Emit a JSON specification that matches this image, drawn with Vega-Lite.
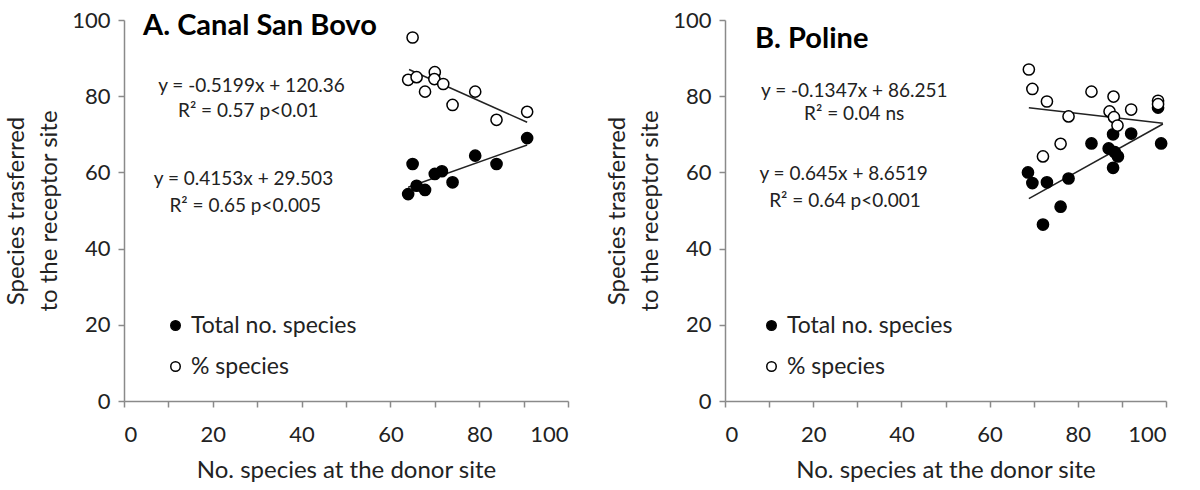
{
  "$schema": "https://vega.github.io/schema/vega-lite/v6.json",
  "padding": {"left": 4, "top": 9, "right": 5, "bottom": 5},
  "background": "white",
  "config": {
    "font": "Lato",
    "view": {"stroke": null},
    "axis": {
      "grid": false,
      "domainColor": "#8a8a8a",
      "domainWidth": 1.5,
      "tickColor": "#8a8a8a",
      "tickWidth": 1.5,
      "tickSize": 6,
      "labelFont": "Lato",
      "labelFontSize": 22,
      "labelColor": "#222222",
      "titleFont": "Lato",
      "titleFontSize": 24,
      "titleFontWeight": "normal",
      "titleColor": "#222222"
    },
    "axisX": {"labelPadding": 17, "titlePadding": 13},
    "axisY": {"labelPadding": 8, "titlePadding": 10, "titleLineHeight": 33}
  },
  "datasets": {
    "pointsA": [
      {"x": 64.0, "y": 54.3, "series": "Total no. species"},
      {"x": 65.0, "y": 62.2, "series": "Total no. species"},
      {"x": 65.9, "y": 56.5, "series": "Total no. species"},
      {"x": 67.8, "y": 55.4, "series": "Total no. species"},
      {"x": 70.0, "y": 59.6, "series": "Total no. species"},
      {"x": 71.6, "y": 60.3, "series": "Total no. species"},
      {"x": 74.0, "y": 57.4, "series": "Total no. species"},
      {"x": 79.1, "y": 64.4, "series": "Total no. species"},
      {"x": 83.9, "y": 62.2, "series": "Total no. species"},
      {"x": 90.8, "y": 69.0, "series": "Total no. species"},
      {"x": 65.0, "y": 95.4, "series": "% species"},
      {"x": 64.0, "y": 84.3, "series": "% species"},
      {"x": 65.9, "y": 85.0, "series": "% species"},
      {"x": 70.0, "y": 86.3, "series": "% species"},
      {"x": 69.9, "y": 84.5, "series": "% species"},
      {"x": 71.9, "y": 83.2, "series": "% species"},
      {"x": 67.8, "y": 81.2, "series": "% species"},
      {"x": 74.0, "y": 77.7, "series": "% species"},
      {"x": 79.1, "y": 81.2, "series": "% species"},
      {"x": 83.9, "y": 73.8, "series": "% species"},
      {"x": 90.8, "y": 75.9, "series": "% species"}
    ],
    "linesA": [
      {"x": 64.0, "y": 56.1, "series": "Total no. species"},
      {"x": 90.8, "y": 67.2, "series": "Total no. species"},
      {"x": 64.2, "y": 87.0, "series": "% species"},
      {"x": 90.8, "y": 73.15, "series": "% species"}
    ],
    "notesA": [
      {"x": 28.7, "y": 82.7, "text": "y = -0.5199x + 120.36"},
      {"x": 28.0, "y": 76.1, "text": "R² = 0.57 p<0.01"},
      {"x": 26.9, "y": 58.3, "text": "y = 0.4153x + 29.503"},
      {"x": 27.3, "y": 51.2, "text": "R² = 0.65 p<0.005"}
    ],
    "titleA": [{"x": 4.3, "y": 98.4, "text": "A. Canal San Bovo"}],
    "pointsB": [
      {"x": 98.2, "y": 77.0, "series": "Total no. species"},
      {"x": 88.0, "y": 70.0, "series": "Total no. species"},
      {"x": 92.1, "y": 70.2, "series": "Total no. species"},
      {"x": 83.1, "y": 67.6, "series": "Total no. species"},
      {"x": 98.9, "y": 67.6, "series": "Total no. species"},
      {"x": 87.0, "y": 66.3, "series": "Total no. species"},
      {"x": 88.4, "y": 65.3, "series": "Total no. species"},
      {"x": 89.1, "y": 64.2, "series": "Total no. species"},
      {"x": 88.0, "y": 61.2, "series": "Total no. species"},
      {"x": 68.7, "y": 60.0, "series": "Total no. species"},
      {"x": 69.7, "y": 57.2, "series": "Total no. species"},
      {"x": 73.0, "y": 57.4, "series": "Total no. species"},
      {"x": 77.9, "y": 58.4, "series": "Total no. species"},
      {"x": 76.1, "y": 51.0, "series": "Total no. species"},
      {"x": 72.1, "y": 46.3, "series": "Total no. species"},
      {"x": 68.9, "y": 87.0, "series": "% species"},
      {"x": 69.7, "y": 81.9, "series": "% species"},
      {"x": 73.0, "y": 78.6, "series": "% species"},
      {"x": 77.9, "y": 74.7, "series": "% species"},
      {"x": 83.1, "y": 81.2, "series": "% species"},
      {"x": 88.1, "y": 79.9, "series": "% species"},
      {"x": 87.2, "y": 76.0, "series": "% species"},
      {"x": 88.2, "y": 74.5, "series": "% species"},
      {"x": 89.0, "y": 72.3, "series": "% species"},
      {"x": 92.1, "y": 76.5, "series": "% species"},
      {"x": 98.2, "y": 78.8, "series": "% species"},
      {"x": 98.2, "y": 77.9, "series": "% species"},
      {"x": 76.1, "y": 67.5, "series": "% species"},
      {"x": 72.1, "y": 64.2, "series": "% species"}
    ],
    "linesB": [
      {"x": 68.9, "y": 53.1, "series": "Total no. species"},
      {"x": 99.3, "y": 72.7, "series": "Total no. species"},
      {"x": 68.9, "y": 76.97, "series": "% species"},
      {"x": 99.3, "y": 72.88, "series": "% species"}
    ],
    "notesB": [
      {"x": 29.3, "y": 81.4, "text": "y = -0.1347x + 86.251"},
      {"x": 29.3, "y": 75.3, "text": "R² = 0.04  ns"},
      {"x": 26.9, "y": 59.6, "text": "y = 0.645x + 8.6519"},
      {"x": 27.2, "y": 52.6, "text": "R² = 0.64 p<0.001"}
    ],
    "titleB": [{"x": 6.8, "y": 95.0, "text": "B. Poline"}]
  },
  "hconcat": [
    {
      "width": 444,
      "height": 381,
      "layer": [
        {
          "data": {"name": "linesA"},
          "mark": {"type": "line", "color": "#222222", "strokeWidth": 1.5},
          "encoding": {
            "x": {"field": "x", "type": "quantitative", "scale": {"domain": [0, 100], "nice": false}, "axis": {"title": "No. species at the donor site", "values": [0, 10, 20, 30, 40, 50, 60, 70, 80, 90, 100], "labelExpr": "datum.value % 20 == 0 ? datum.label : ''"}},
            "y": {"field": "y", "type": "quantitative", "scale": {"domain": [0, 100], "nice": false}, "axis": {"title": ["Species trasferred", "to the receptor site"], "values": [0, 10, 20, 30, 40, 50, 60, 70, 80, 90, 100], "labelExpr": "datum.value % 20 == 0 ? datum.label : ''"}},
            "detail": {"field": "series", "type": "nominal"}
          }
        },
        {
          "data": {"name": "pointsA"},
          "mark": {"type": "point", "shape": "circle", "filled": true, "size": 125, "stroke": "black", "strokeWidth": 1.5, "opacity": 1},
          "encoding": {
            "x": {"field": "x", "type": "quantitative"},
            "y": {"field": "y", "type": "quantitative"},
            "fill": {
              "field": "series", "type": "nominal",
              "scale": {"domain": ["Total no. species", "% species"], "range": ["black", "white"]},
              "legend": {"title": null, "orient": "none", "legendX": 40, "legendY": 294, "padding": 0, "labelFont": "Lato", "labelFontSize": 23, "labelLimit": 400, "labelColor": "#222222", "symbolType": "circle", "symbolSize": 90, "symbolStrokeColor": "black", "symbolStrokeWidth": 1.5, "rowPadding": 17, "labelOffset": 4}
            }
          }
        },
        {
          "data": {"name": "notesA"},
          "mark": {"type": "text", "fontSize": 19, "align": "center", "baseline": "middle", "color": "#222222"},
          "encoding": {
            "x": {"field": "x", "type": "quantitative"},
            "y": {"field": "y", "type": "quantitative"},
            "text": {"field": "text"}
          }
        },
        {
          "data": {"name": "titleA"},
          "mark": {"type": "text", "fontSize": 29, "fontWeight": "bold", "align": "left", "baseline": "middle", "color": "black"},
          "encoding": {
            "x": {"field": "x", "type": "quantitative"},
            "y": {"field": "y", "type": "quantitative"},
            "text": {"field": "text"}
          }
        }
      ]
    },
    {
      "width": 441,
      "height": 381,
      "layer": [
        {
          "data": {"name": "linesB"},
          "mark": {"type": "line", "color": "#222222", "strokeWidth": 1.5},
          "encoding": {
            "x": {"field": "x", "type": "quantitative", "scale": {"domain": [0, 100], "nice": false}, "axis": {"title": "No. species at the donor site", "values": [0, 10, 20, 30, 40, 50, 60, 70, 80, 90, 100], "labelExpr": "datum.value % 20 == 0 ? datum.label : ''"}},
            "y": {"field": "y", "type": "quantitative", "scale": {"domain": [0, 100], "nice": false}, "axis": {"title": ["Species trasferred", "to the receptor site"], "values": [0, 10, 20, 30, 40, 50, 60, 70, 80, 90, 100], "labelExpr": "datum.value % 20 == 0 ? datum.label : ''"}},
            "detail": {"field": "series", "type": "nominal"}
          }
        },
        {
          "data": {"name": "pointsB"},
          "mark": {"type": "point", "shape": "circle", "filled": true, "size": 125, "stroke": "black", "strokeWidth": 1.5, "opacity": 1},
          "encoding": {
            "x": {"field": "x", "type": "quantitative"},
            "y": {"field": "y", "type": "quantitative"},
            "fill": {
              "field": "series", "type": "nominal",
              "scale": {"domain": ["Total no. species", "% species"], "range": ["black", "white"]},
              "legend": {"title": null, "orient": "none", "legendX": 35, "legendY": 294, "padding": 0, "labelFont": "Lato", "labelFontSize": 23, "labelLimit": 400, "labelColor": "#222222", "symbolType": "circle", "symbolSize": 90, "symbolStrokeColor": "black", "symbolStrokeWidth": 1.5, "rowPadding": 17, "labelOffset": 4}
            }
          }
        },
        {
          "data": {"name": "notesB"},
          "mark": {"type": "text", "fontSize": 19, "align": "center", "baseline": "middle", "color": "#222222"},
          "encoding": {
            "x": {"field": "x", "type": "quantitative"},
            "y": {"field": "y", "type": "quantitative"},
            "text": {"field": "text"}
          }
        },
        {
          "data": {"name": "titleB"},
          "mark": {"type": "text", "fontSize": 29, "fontWeight": "bold", "align": "left", "baseline": "middle", "color": "black"},
          "encoding": {
            "x": {"field": "x", "type": "quantitative"},
            "y": {"field": "y", "type": "quantitative"},
            "text": {"field": "text"}
          }
        }
      ]
    }
  ],
  "spacing": 36,
  "resolve": {"scale": {"fill": "independent"}, "legend": {"fill": "independent"}}
}
